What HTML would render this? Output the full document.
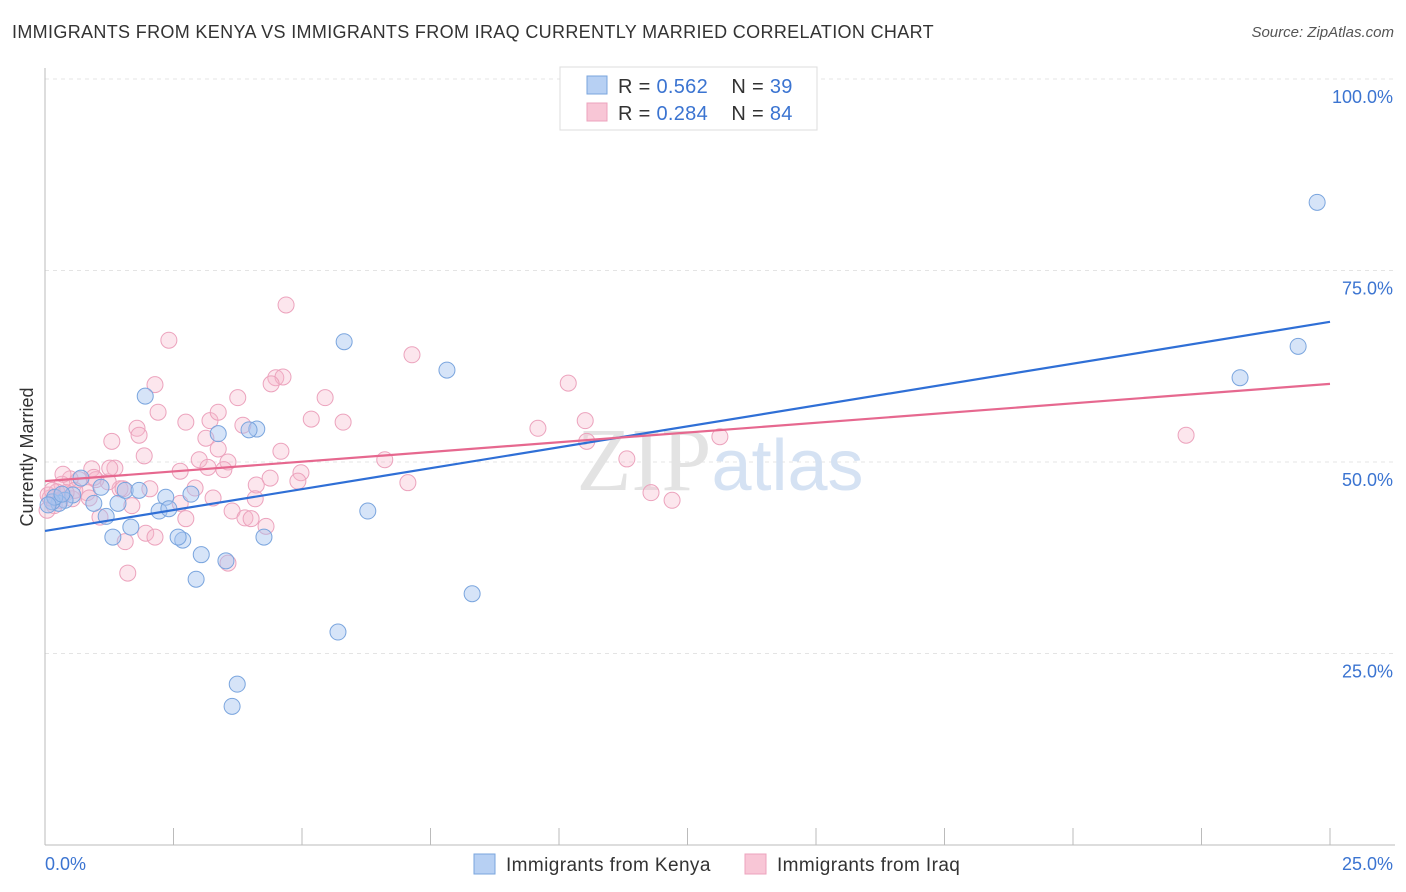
<!DOCTYPE html>
<html><head><meta charset="utf-8"><style>
body{margin:0;background:#fff;font-family:"Liberation Sans",sans-serif;}
#wrap{position:relative;width:1406px;height:892px;overflow:hidden;}
.title{position:absolute;left:12px;top:22px;font-size:18px;color:#333;letter-spacing:0.34px;}
.source{position:absolute;right:12px;top:24px;font-size:15px;color:#555;font-style:italic;}
</style></head><body>
<div id="wrap">
<div class="title">IMMIGRANTS FROM KENYA VS IMMIGRANTS FROM IRAQ CURRENTLY MARRIED CORRELATION CHART</div>
<div class="source">Source: ZipAtlas.com</div>
<svg id="svg" width="1406" height="892" style="position:absolute;left:0;top:0"></svg>
</div>
<script>
const kenyaX=[24.75,24.38,23.25,7.82,5.82,8.31,5.70,6.28,3.74,3.64,1.95,3.37,4.12,3.97,4.26,3.52,2.94,3.04,2.68,2.59,2.84,2.35,2.22,2.41,1.67,1.32,1.19,1.42,0.95,1.56,1.83,1.09,0.70,0.54,0.39,0.27,0.14,0.19,0.06,0.33];
const kenyaY=[83.9,65.1,61.0,62.0,65.7,32.8,27.8,43.6,21.0,18.1,58.6,53.7,54.3,54.2,40.2,37.1,34.7,37.9,39.8,40.2,45.8,45.4,43.6,43.9,41.5,40.2,42.9,44.6,44.6,46.3,46.3,46.7,47.9,45.7,45.0,44.6,44.8,45.4,44.4,45.8];
const iraqX=[4.69,2.41,2.14,2.20,2.74,1.79,1.30,1.83,1.93,3.21,3.37,3.75,3.85,3.13,3.37,3.56,3.00,2.63,3.17,3.48,4.49,4.63,4.40,5.18,5.45,5.80,4.59,4.98,4.38,4.92,4.11,4.09,3.64,3.89,4.01,4.30,3.56,3.27,2.92,2.74,2.63,1.96,2.14,1.61,1.56,1.69,1.46,1.23,1.36,0.91,0.99,1.07,0.82,0.66,0.49,0.33,0.35,0.23,0.10,0.06,0.18,0.53,7.14,6.61,7.06,9.59,10.18,10.51,10.54,11.32,11.79,12.20,13.13,22.20,0.04,0.14,0.86,0.58,1.52,0.95,1.26,0.29,0.41,2.04];
const iraqY=[70.5,65.9,60.1,56.5,55.2,54.4,52.7,53.5,50.8,55.4,56.5,58.4,54.8,53.1,51.7,50.0,50.3,48.8,49.3,49.0,61.0,61.1,60.2,55.6,58.4,55.2,51.4,48.6,47.9,47.5,47.0,45.2,43.6,42.7,42.6,41.6,36.8,45.3,46.6,42.6,44.6,40.7,40.2,35.5,39.6,44.3,46.5,47.4,49.2,49.1,47.7,42.8,46.0,47.7,47.8,47.1,48.4,46.1,45.3,45.7,44.3,45.2,64.0,50.3,47.3,54.4,60.3,55.4,52.7,50.4,46.0,45.0,53.3,53.5,43.7,46.3,45.3,46.3,46.5,48.0,49.2,45.0,46.0,46.5];
const kenyaTrend=[41.0,68.3];
const iraqTrend=[47.5,60.2];
const yTicks=[25,50,75,100];
const yTickLabels=["25.0%","50.0%","75.0%","100.0%"];
const xTicks=[0,2.5,5,7.5,10,12.5,15,17.5,20,22.5,25];
const legendR=["0.562","0.284"];
const legendN=["39","84"];

const svg=document.getElementById('svg');
const NS='http://www.w3.org/2000/svg';
const X0=45,X1=1330,Y0=845,Y100=79;
const sx=v=>X0+(v/25)*(X1-X0);
const sy=v=>Y0-(v/100)*(Y0-Y100);
function mk(tag,attrs,parent){const e=document.createElementNS(NS,tag);for(const k in attrs)e.setAttribute(k,attrs[k]);(parent||svg).appendChild(e);return e;}

yTicks.forEach((t,i)=>{
  const g=mk('line',{x1:X0,x2:1395,y1:sy(t),y2:sy(t),stroke:'#e4e4e4','stroke-dasharray':'4,4'});
  
  
  const tx=mk('text',{x:1393,y:sy(t)+24,'text-anchor':'end','font-size':18,fill:'#3b74d1','font-family':'Liberation Sans'});
  tx.textContent=yTickLabels[i];
  
  
});
const ya=mk('line',{x1:X0,x2:X0,y1:68,y2:Y0,stroke:'#bbb'});


const xa=mk('line',{x1:X0,x2:1395,y1:Y0,y2:Y0,stroke:'#bbb'});


xTicks.forEach(t=>{
  const l=mk('line',{x1:sx(t),x2:sx(t),y1:Y0,y2:Y0-17,stroke:'#bbb'});
  
  
});
const xl0=mk('text',{x:45,y:870,'font-size':18,fill:'#3b74d1'});xl0.textContent='0.0%';


const xl1=mk('text',{x:1393,y:870,'font-size':18,fill:'#3b74d1','text-anchor':'end'});xl1.textContent='25.0%';


const yt=mk('text',{x:0,y:0,'font-size':18,fill:'#333',transform:'translate(33,457) rotate(-90)','text-anchor':'middle'});yt.textContent='Currently Married';


const wm=mk('text',{x:720,y:490,'text-anchor':'middle','font-size':90,fill:'#e3e3e3','font-family':'Liberation Serif'});
wm.innerHTML='ZIP<tspan fill="#d5e2f3" font-family="Liberation Sans" font-size="72">atlas</tspan>';



iraqX.forEach((x,i)=>{
  const c=mk('circle',{cx:sx(x),cy:sy(iraqY[i]),r:8,fill:'rgba(246,182,204,0.35)',stroke:'#eca3bd','stroke-width':1});
  
  
});
kenyaX.forEach((x,i)=>{
  const c=mk('circle',{cx:sx(x),cy:sy(kenyaY[i]),r:8,fill:'rgba(164,196,240,0.45)',stroke:'#7aa5de','stroke-width':1});
  
  
});
const tk=mk('line',{x1:sx(0),y1:sy(kenyaTrend[0]),x2:sx(25),y2:sy(kenyaTrend[1]),stroke:'#2f6fd6','stroke-width':2.2});


const ti=mk('line',{x1:sx(0),y1:sy(iraqTrend[0]),x2:sx(25),y2:sy(iraqTrend[1]),stroke:'#e6688f','stroke-width':2.2});



const lg=mk('g',{});


mk('rect',{x:560,y:67,width:257,height:63,fill:'#fff',stroke:'#ddd'},lg);
[['#b7d0f3','#7aa5de'],['#f8c6d6','#eca3bd']].forEach((c,i)=>{
  const y=76+i*27;
  const r=mk('rect',{x:587,y:y,width:20,height:18,fill:c[0],stroke:c[1]},lg);
  
  
  const t=mk('text',{x:618,y:y+17,'font-size':20,fill:'#333','letter-spacing':'0.3'},lg);
  t.innerHTML='R = <tspan fill="#3b74d1">'+legendR[i]+'</tspan>&#160;&#160;&#160;&#160;N = <tspan fill="#3b74d1">'+legendN[i]+'</tspan>';
  
  
});
[['Immigrants from Kenya',474,'#b7d0f3','#7aa5de'],['Immigrants from Iraq',745,'#f8c6d6','#eca3bd']].forEach((d,i)=>{
  const r=mk('rect',{x:d[1],y:854,width:21,height:20,fill:d[2],stroke:d[3]});
  
  
  const t=mk('text',{x:d[1]+32,y:871,'font-size':19,fill:'#333','letter-spacing':'0.4'});t.textContent=d[0];
  
  
});
</script>
</body></html>
